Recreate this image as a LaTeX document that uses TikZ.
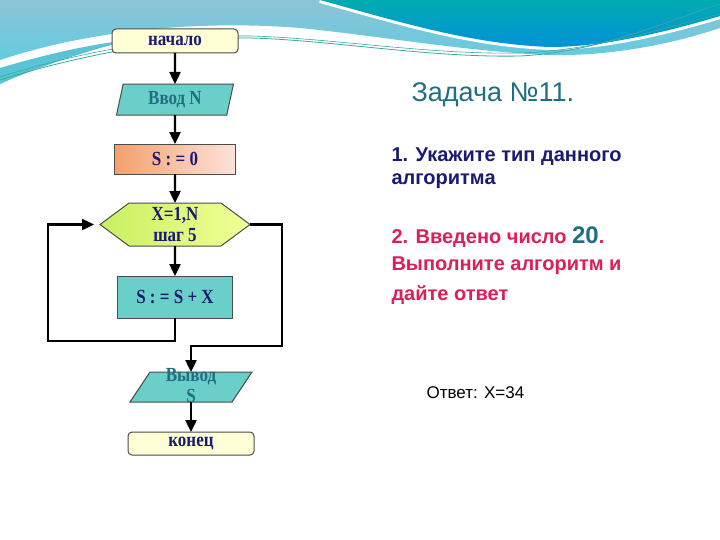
\documentclass[tikz,border=0pt]{standalone}
\usepackage{fontspec}
\setmainfont{Liberation Sans}
\newfontfamily\chartfont[FakeStretch=0.85]{Liberation Serif}
\usepackage{tikz}
\usetikzlibrary{%
  shapes.geometric, shapes.symbols, arrows.meta, positioning, calc, backgrounds
}
\usepackage{xcolor}
\definecolor{navy}{HTML}{1A1A72}
\definecolor{darkteal}{HTML}{1F6F80}
\definecolor{boxteal}{HTML}{6ACFC8}
\definecolor{paleyellow}{HTML}{FFFFD6}
\definecolor{crimson}{HTML}{DC1E5A}
\definecolor{peach}{HTML}{F2A06C}
\definecolor{blush}{HTML}{FDE3DA}
\definecolor{limegreen}{HTML}{C8F060}
\definecolor{paleyellowgreen}{HTML}{F2FF98}
\definecolor{skytop}{HTML}{8DC3D7}
\definecolor{skybottom}{HTML}{62CCDF}
\definecolor{blobtop}{HTML}{00ABB0}
\definecolor{blobbottom}{HTML}{0092D8}
\definecolor{tealline}{HTML}{3AA8A0}
\tikzstyle{fnode} = [%
  draw=black!70,
  line width=1pt,
  outer sep=0pt,
  align=center,
  text centered,
  inner sep=0pt,
  font=\chartfont\bfseries\fontsize{20}{21}\selectfont,
  text=navy
]

\begin{document}
\begin{tikzpicture}[%
  x=1pt, y=-1pt,
  >={Triangle[width=11pt,length=12pt]},
  term/.style={fnode, rounded corners=4pt, fill=paleyellow,
    minimum width=126pt, minimum height=24pt},
  io/.style={fnode, trapezium, trapezium left angle=68,
    trapezium right angle=112, trapezium stretches body,
    fill=boxteal, minimum width=117pt, minimum height=31pt, text=darkteal},
  proc/.style={fnode, rectangle, minimum height=30pt},
  cyc/.style={fnode, signal, signal to=east and west,
    signal pointer angle=73, minimum width=150pt, minimum height=43pt},
  flow/.style={->, line width=2.4pt, black},
  task/.style={anchor=base west, align=left,
    font=\bfseries\fontsize{20}{23}\selectfont}
]
  \useasboundingbox (0,0) rectangle (720,540);

  % Background waves
  \begin{scope}[on background layer]
  \fill[white] (0,0) rectangle (720,540);
  \shade[top color=skytop, bottom color=skybottom]
    (0,0) -- (720,0) -- (720,28)
    .. controls (660,48) and (600,56) .. (550,55)
    .. controls (470,52) and (380,36) .. (300,28)
    .. controls (200,20) and (90,30) .. (0,60) -- cycle;
  \fill[skybottom!90!teal]
    (0,68) .. controls (40,56) and (90,44) .. (130,40)
    .. controls (90,50) and (40,66) .. (0,84) -- cycle;
  \draw[white, line width=6pt]
    (320,0) .. controls (400,22) and (470,44) .. (550,47)
    .. controls (600,47) and (660,34) .. (720,16);
  \shade[top color=blobtop, bottom color=blobbottom]
    (320,0) -- (720,0) -- (720,16)
    .. controls (660,34) and (600,47) .. (550,47)
    .. controls (470,44) and (400,22) .. (320,0) -- cycle;
  \draw[tealline, line width=0.8pt]
    (0,80) .. controls (80,55) and (170,38) .. (250,38)
    .. controls (330,40) and (430,58) .. (520,56)
    .. controls (600,52) and (670,20) .. (720,4);
  \draw[tealline, line width=0.6pt]
    (0,77) .. controls (80,52) and (170,35) .. (250,36)
    .. controls (330,38) and (430,55) .. (520,53)
    .. controls (600,50) and (670,26) .. (720,14);
  \end{scope}

  % Flowchart nodes
  \node[term] (start) at (175,41) {начало};
  \node[io, below=31pt of start] (in) {Ввод N};
  \node[proc, below=29pt of in, minimum width=121pt,
    left color=peach, right color=blush] (init) {S : = 0};
  \node[cyc, below=29pt of init,
    left color=limegreen, right color=paleyellowgreen] (loop) {X=1,N\\шаг 5};
  \node[proc, below=30pt of loop, minimum width=115pt, minimum height=42pt,
    fill=boxteal] (body) {S : = S + X};
  \node[fnode, draw=none, below=54pt of body, xshift=16pt, minimum width=122pt,
    minimum height=30pt, text height=30pt, text depth=0pt,
    text=darkteal] (out) {Вывод\\S};
  \node[term, below=30pt of out, minimum height=23pt] (stop) {конец};

  % Output parallelogram behind its text
  \begin{scope}[on background layer]
  \draw[fill=boxteal, draw=black!70, line width=1pt]
    ($(out.north west)+(20,0)$) -- (out.north east)
    -- ($(out.south east)+(-20,0)$) -- (out.south west) -- cycle;
  \end{scope}

  % Connectors
  \coordinate (lb) at (48,341);
  \coordinate (rb) at (282,346);
  \draw[flow] (start) -- (in);
  \draw[flow] (in) -- (init);
  \draw[flow] (init) -- (loop);
  \draw[flow] (loop) -- (body);
  \draw[flow, shorten >=6pt] (body.south) |- (lb) |- (loop.west);
  \draw[flow] (loop.east) -| (rb) -| (out.north);
  \draw[flow] (out) -- (stop);

  % Task text
  \node[anchor=base west, text=darkteal, font=\fontsize{27}{30}\selectfont]
    (title) at (408,102) {Задача №11.};
  \node[task, text=navy] (q1) at (388,185) {1. Укажите тип данного\\алгоритма};
  \node[task, text=crimson, font=\bfseries\fontsize{20}{27}\selectfont] (q2) at (388,300)
    {2. Введено число {\color{darkteal}\fontsize{24}{27}\selectfont 20}.\\Выполните алгоритм и\\[3pt]дайте ответ};
  \node[anchor=base west, font=\fontsize{17}{20}\selectfont] (ans) at (423,398) {Ответ: X=34};
\end{tikzpicture}
\end{document}
